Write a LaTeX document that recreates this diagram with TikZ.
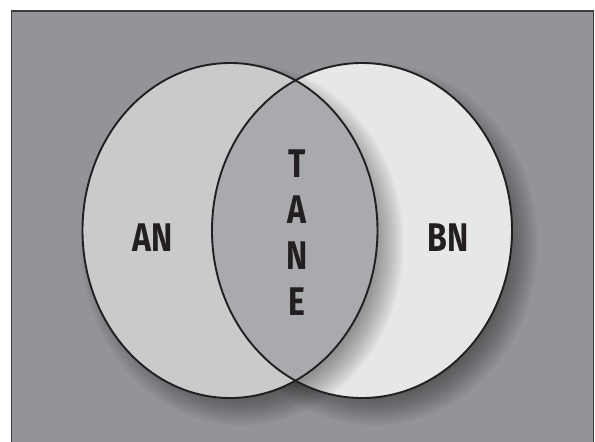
\documentclass[tikz,border=0pt]{standalone}
\usepackage{fontspec}
\newfontfamily\condfont[FakeStretch=0.80]{Fira Sans}
\definecolor{bgray}{HTML}{939498}
\definecolor{lgray}{HTML}{C9CACC}
\definecolor{rgray}{HTML}{E6E7E8}
\definecolor{mgray}{HTML}{A9AAAD}
\definecolor{ink}{HTML}{231F20}
\definecolor{frame}{HTML}{3C3C3E}
\tikzset{
  setlabel/.style={font=\condfont\bfseries\fontsize{40}{40}\selectfont, text=ink, inner sep=0pt, anchor=center},
  outline/.style={draw=ink, line width=1.9pt}
}
\begin{document}
\begin{tikzpicture}[x=1pt,y=-1pt]
\fill[white] (0,0) rectangle (595,442);
\useasboundingbox (0,0) rectangle (595,442);
\fill[bgray] (11.5,11) rectangle (593.5,442);
\draw[frame, line width=1.4pt] (11.5,442) -- (11.5,11) -- (593.5,11) -- (593.5,442);
% shadow of right set
\foreach \i in {-14,-12,...,14} {
  \fill[black, opacity=0.028] (374,244) ellipse ({150+\i} and {167.5+\i});
}
\fill[rgray] (362,230.5) ellipse (150 and 167.5);
% shadow of left set
\foreach \i in {-14,-12,...,14} {
  \fill[black, opacity=0.028] (242,244) ellipse ({147.5+\i} and {167.5+\i});
}
\fill[lgray] (230,230.5) ellipse (147.5 and 167.5);
\begin{scope}
  \clip (230,230.5) ellipse (147.5 and 167.5);
  \fill[mgray] (362,230.5) ellipse (150 and 167.5);
\end{scope}
\draw[outline] (362,230.5) ellipse (150 and 167.5);
\draw[outline] (230,230.5) ellipse (147.5 and 167.5);
\node[setlabel] (an) at (153,238) {AN};
\node[setlabel] (bn) at (448,238) {BN};
\node[setlabel] (t) at (297,164) {T};
\node[setlabel] (a) at (297,210) {A};
\node[setlabel] (n) at (297,256) {N};
\node[setlabel] (e) at (297,302) {E};
\end{tikzpicture}
\end{document}
